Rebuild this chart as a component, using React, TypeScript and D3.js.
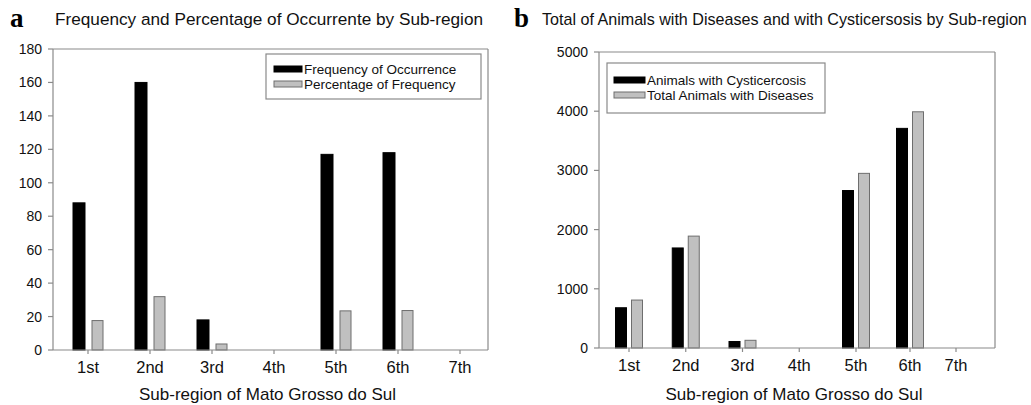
import React from 'react'
import * as d3 from 'd3'

const regions = ['1st', '2nd', '3rd', '4th', '5th', '6th', '7th']
const frequency = [88, 160, 18, 0, 117, 118, 0]
const percentage = [17.6, 31.9, 3.6, 0, 23.4, 23.6, 0]
const cysticercosis = [680, 1690, 110, 0, 2660, 3710, 0]
const totalDiseases = [810, 1890, 130, 0, 2950, 3990, 0]
const freqTicks = [0, 20, 40, 60, 80, 100, 120, 140, 160, 180]
const animalTicks = [0, 1000, 2000, 3000, 4000, 5000]

const FONT = "'Liberation Sans', Arial, sans-serif"
const AXIS = '#8a8a8a'

const Panel = ({ letter, letterX, title, titleX, titleSize, box, xScale, yScale, yTicks, series, legend }) => {
  const { left, right, top, bottom } = box
  return (
    <g>
      <text x={letterX} y={27} fontFamily="'Liberation Serif', 'Times New Roman', serif" fontWeight="bold" fontSize={27}>{letter}</text>
      <text x={titleX} y={25} fontFamily={FONT} fontSize={titleSize} fill="#111">{title}</text>
      {/* frame */}
      <line x1={left} x2={right} y1={top} y2={top} stroke={AXIS} strokeWidth={1.2} />
      <line x1={right} x2={right} y1={top} y2={bottom} stroke={AXIS} strokeWidth={1.2} />
      {/* bars */}
      {series.map((s, si) =>
        s.values.map((v, i) =>
          v > 0 ? (
            <rect key={si + '-' + i} x={xScale(i) + s.offset - s.width / 2} y={yScale(v)} width={s.width} height={yScale(0) - yScale(v)}
              fill={s.fill} stroke={s.stroke} strokeWidth={1} />
          ) : null
        )
      )}
      {/* axes */}
      <line x1={left} x2={left} y1={top} y2={bottom} stroke={AXIS} strokeWidth={1.2} />
      <line x1={left} x2={right} y1={bottom} y2={bottom} stroke={AXIS} strokeWidth={1.2} />
      {yTicks.map((t) => (
        <g key={t}>
          <line x1={left - 5} x2={left} y1={yScale(t)} y2={yScale(t)} stroke={AXIS} strokeWidth={1.2} />
          <text x={left - 11} y={yScale(t) + 5} textAnchor="end" fontFamily={FONT} fontSize={14} fill="#111">{t}</text>
        </g>
      ))}
      {regions.map((r, i) => (
        <g key={r}>
          <line x1={xScale(i)} x2={xScale(i)} y1={bottom} y2={bottom + 4} stroke={AXIS} strokeWidth={1.2} />
          <text x={xScale(i)} y={bottom + 23} textAnchor="middle" fontFamily={FONT} fontSize={16.5} fill="#111">{r}</text>
        </g>
      ))}
      <text x={(left + right) / 2 - 3} y={400} textAnchor="middle" fontFamily={FONT} fontSize={17} fill="#111">Sub-region of Mato Grosso do Sul</text>
      {/* legend */}
      <rect x={legend.x} y={legend.y} width={legend.w} height={legend.h} fill="#fff" stroke={AXIS} strokeWidth={1.2} />
      {series.map((s, si) => (
        <g key={s.name}>
          <rect x={legend.sx} y={legend.rowY[si] - 3} width={legend.sw} height={6} fill={s.fill} stroke={s.stroke} strokeWidth={1} />
          <text x={legend.sx + legend.sw + 2} y={legend.rowY[si] + 4.5} fontFamily={FONT} fontSize={13.5} fill="#111">{s.name}</text>
        </g>
      ))}
    </g>
  )
}

export default function App() {
  const boxA = { left: 53, right: 488, top: 49, bottom: 350 }
  const xA = d3.scaleLinear().domain([0, 6]).range([88, 460])
  const yA = d3.scaleLinear().domain([0, 180]).range([boxA.bottom, boxA.top])

  const boxB = { left: 599, right: 995, top: 52, bottom: 348 }
  const xB = d3.scaleLinear().domain([0, 4, 5, 6]).range([629, 856, 910, 956])
  const yB = d3.scaleLinear().domain([0, 5000]).range([boxB.bottom, boxB.top])

  return (
    <svg width={1031} height={405} style={{ position: 'absolute', left: 0, top: 0, background: '#fff' }}>
      <rect width={1031} height={405} fill="#fff" />
      <Panel
        letter="a" letterX={10}
        title="Frequency and Percentage of Occurrente by Sub-region" titleX={55} titleSize={17.2}
        box={boxA} xScale={xA} yScale={yA} yTicks={freqTicks}
        series={[
          { name: 'Frequency of Occurrence', values: frequency, fill: '#000', stroke: '#000', offset: -9, width: 12 },
          { name: 'Percentage of Frequency', values: percentage, fill: '#c0c0c0', stroke: '#6e6e6e', offset: 9.5, width: 11 },
        ]}
        legend={{ x: 266, y: 54, w: 215, h: 45, sx: 274, sw: 28, rowY: [69, 84] }}
      />
      <Panel
        letter="b" letterX={514}
        title="Total of Animals with Diseases and with Cysticersosis by Sub-region" titleX={542} titleSize={16.1}
        box={boxB} xScale={xB} yScale={yB} yTicks={animalTicks}
        series={[
          { name: 'Animals with Cysticercosis', values: cysticercosis, fill: '#000', stroke: '#000', offset: -8, width: 11 },
          { name: 'Total Animals with Diseases', values: totalDiseases, fill: '#c0c0c0', stroke: '#6e6e6e', offset: 8, width: 11 },
        ]}
        legend={{ x: 607, y: 63, w: 218, h: 50, sx: 614, sw: 31, rowY: [80, 95] }}
      />
    </svg>
  )
}
